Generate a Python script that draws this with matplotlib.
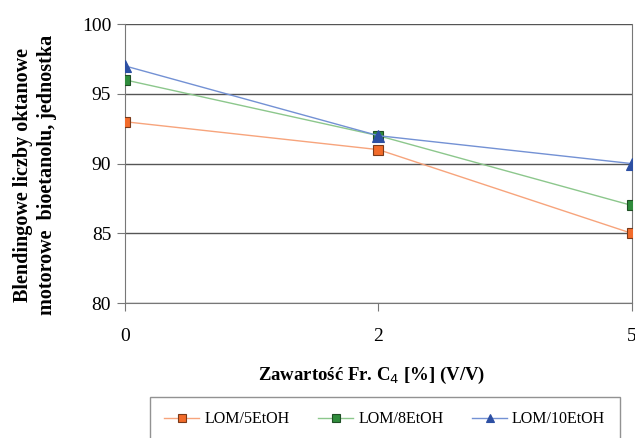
import numpy as np
import matplotlib.pyplot as plt

plt.rcParams['font.family'] = ['Liberation Serif', 'DejaVu Serif']

categories = ['0', '2', '5']
lom5 = [93, 91, 85]
lom8 = [96, 92, 87]
lom10 = [97, 92, 90]
series_names = ['LOM/5EtOH', 'LOM/8EtOH', 'LOM/10EtOH']

fig = plt.figure(figsize=(6.35, 4.38), dpi=100)
ax = fig.add_axes([0.197, 0.308, 0.798, 0.637])

x = np.arange(len(categories))
ax.plot(x, lom5, color='#F7A47C', lw=1, marker='s', ms=7, mfc='#F26B2A',
        mec='#7A3A1A', mew=0.8, label=series_names[0], zorder=3)
ax.plot(x, lom8, color='#8CC78C', lw=1, marker='s', ms=7, mfc='#2F8C3C',
        mec='#1F4F25', mew=0.8, label=series_names[1], zorder=3)
ax.plot(x, lom10, color='#7391D4', lw=1, marker='^', ms=8, mfc='#2C4FA3',
        mec='#2C4FA3', mew=0.8, label=series_names[2], zorder=4)

ax.set_xlim(0, 2)
ax.set_ylim(80, 100)
ax.set_yticks(range(80, 101, 5))
ax.set_xticks(x)
ax.set_xticklabels(categories)
ax.yaxis.grid(True, color='#555555', lw=1)
ax.set_axisbelow(True)
for s in ['left', 'right', 'bottom']:
    ax.spines[s].set_color('#777777')
ax.spines['top'].set_visible(False)
ax.tick_params(axis='both', labelsize=14, colors='#777777', labelcolor='black',
               direction='out', length=6)
ax.tick_params(axis='x', pad=12)
ax.tick_params(axis='y', pad=4)

ax.set_xlabel('Zawartość Fr. C$_4$ [%] (V/V)', fontsize=13.5, fontweight='bold')
ax.xaxis.label.set_va('center')
ax.xaxis.set_label_coords(0.487, -0.258)
ax.set_ylabel('Blendingowe liczby oktanowe\nmotorowe  bioetanolu, jednostka',
              fontsize=14.5, fontweight='bold', linespacing=1.3)
ax.yaxis.label.set_va('center')
ax.yaxis.set_label_coords(-0.178, 0.46)

leg = fig.legend(loc='upper left', bbox_to_anchor=(0.236, 0.0936), ncol=3,
                 frameon=True, fancybox=False, fontsize=11.5, handlelength=2.2,
                 handletextpad=0.3, columnspacing=1.8, borderpad=0.9,
                 borderaxespad=0, edgecolor='#777777', markerscale=0.8)
leg.get_frame().set_linewidth(1)

fig.savefig('out.png', dpi=100)
